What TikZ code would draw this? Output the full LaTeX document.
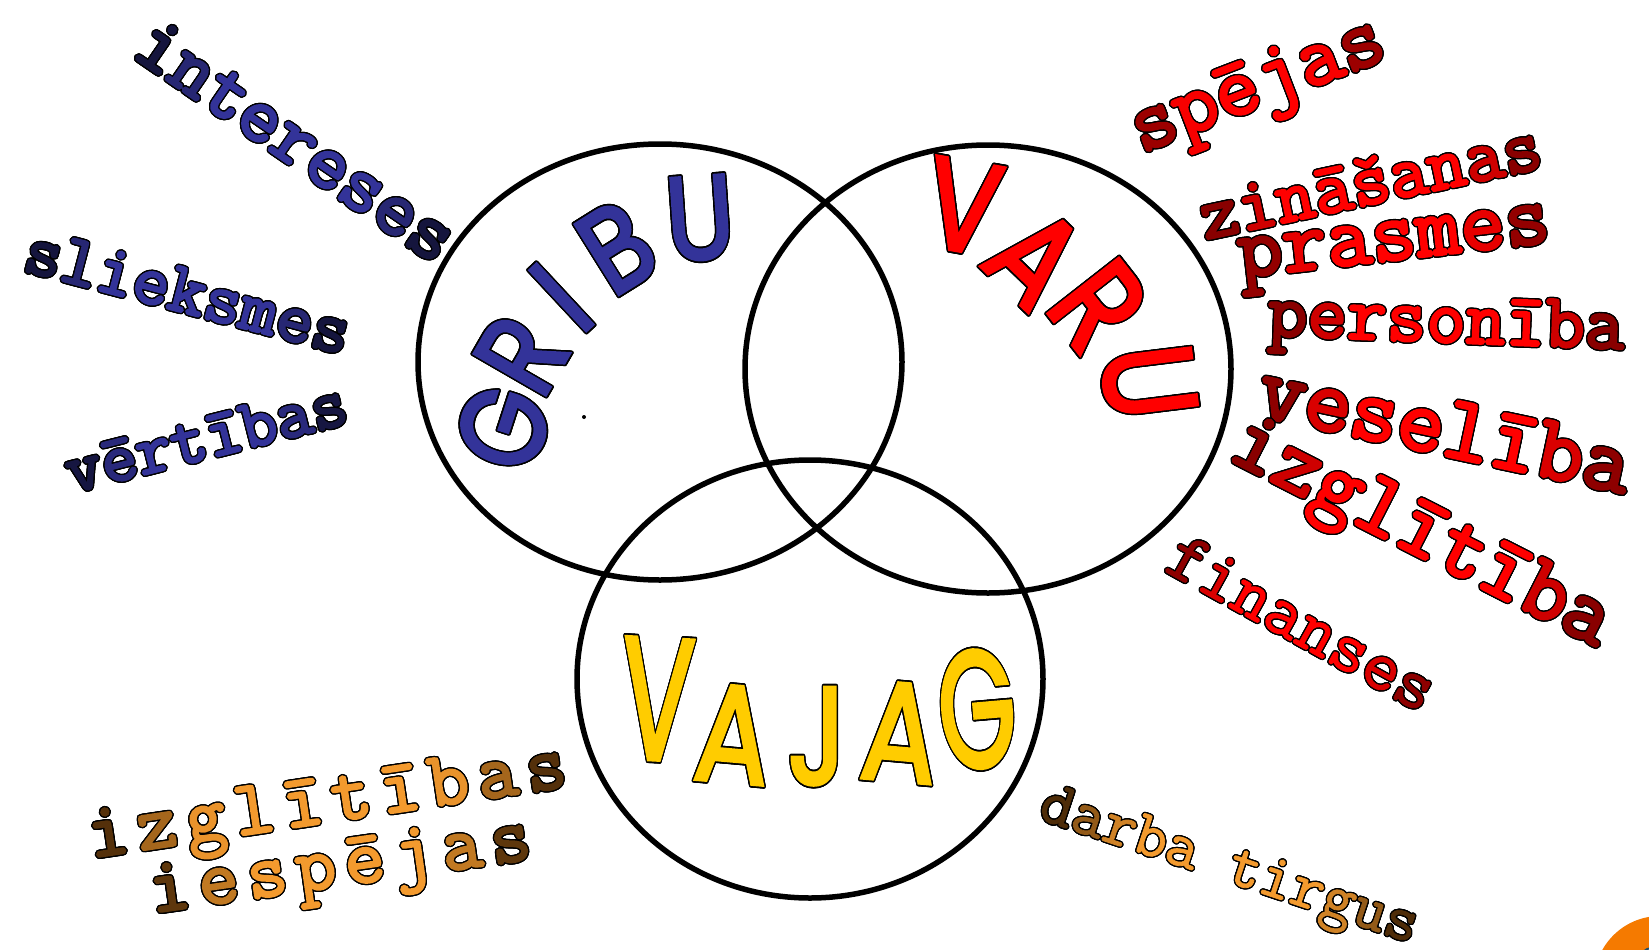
\documentclass[tikz,border=0pt]{standalone}
\usepackage{fontspec}
\newfontfamily\slabbold{Latin Modern Mono}[FakeBold=3]
\newfontfamily\slabthin{Latin Modern Mono}[FakeBold=1.2]
\newfontfamily\comicfont{Poppins}[FakeBold=3]
\usepackage{xcolor}
\definecolor{vnNavy}{HTML}{333399}
\definecolor{vnNavyDark}{HTML}{0c0c22}
\definecolor{vnRed}{HTML}{FF0000}
\definecolor{vnRedDark}{HTML}{660000}
\definecolor{vnGold}{HTML}{FFCC00}
\definecolor{vnOrange}{HTML}{F39A2E}
\definecolor{vnBrown}{HTML}{2a1400}
\definecolor{vnLogo}{HTML}{F57A00}
\definecolor{vnLogoIn}{HTML}{1f4e6b}
\usepackage[copies]{contour}
\contourlength{1.3pt}
\contournumber{20}
\usepackage{tikz}

% letters of a word shaded dark -> bright -> dark
\ExplSyntaxOn
\NewDocumentCommand{\gradword}{O{0pt}mmm}
  {
    \int_set:Nn \l_tmpa_int { \tl_count:n {#4} }
    \int_zero:N \l_tmpb_int
    \tl_map_inline:nn {#4}
      {
        \int_incr:N \l_tmpb_int
        \tl_set:Nx \l_tmpa_tl
          { \fp_eval:n { round( min(100, 135 * sin( pi * (\l_tmpb_int - 0.5) / \l_tmpa_int )), 0) } }
        \colorlet{gradtmp}{#3!\l_tmpa_tl!#2}
        {\color{gradtmp}\contour{black}{##1}}
        \int_compare:nNnT { \l_tmpb_int } < { \l_tmpa_int } { \hspace{#1} }
      }
  }
\ExplSyntaxOff

\begin{document}
\begin{tikzpicture}[
      x=1pt, y=-1pt,
      ring/.style={draw=black, line width=5.5pt},
      word/.style={inner sep=0pt, anchor=center,
                   font=\slabbold\fontsize{#1}{#1}\selectfont},
      thinword/.style={inner sep=0pt, anchor=center,
                   font=\slabthin\fontsize{#1}{#1}\selectfont},
      bigletter/.style={inner sep=0pt, anchor=center,
                   font=\comicfont\fontsize{#1}{#1}\selectfont\contourlength{1.7pt}},
    ]
    \useasboundingbox (0,0) rectangle (1649,950);

    % The three rings
    \draw[ring] (660,362) ellipse [x radius=242, y radius=218];
    \draw[ring] (988,369) ellipse [x radius=243, y radius=224];
    \draw[ring] (810,679) ellipse [x radius=233, y radius=219];
    \fill (584,417) circle (2);

    % GRIBU along its arc
    \foreach \ch/\x/\y/\r [count=\i] in {G/504/428/72, R/522/355/60,
        I/562/298/43, B/617/248/32, U/700/219/4}
      \node[bigletter=118, text=vnNavy, rotate=\r, xscale=0.85]
        (gribu\i) at (\x,\y) {\contour{black}{\ch}};

    % VARU along its arc
    \foreach \ch/\x/\y/\r [count=\i] in {V/963/207/-10, A/1035/258/-44,
        R/1098/306/-52, U/1148/382/-83}
      \node[bigletter=128, text=vnRed, rotate=\r, xscale=0.85]
        (varu\i) at (\x,\y) {\contour{black}{\ch}};

    % VAJAG in the lower ring
    \foreach \ch/\x/\y/\r/\s/\w [count=\i] in {V/657/700/-3/172/0.62,
        A/733/735/-5/138/0.8, J/817/737/0/138/0.8, A/900/733/-5/140/0.8,
        G/977/710/5/165/0.6}
      \node[bigletter=\s, text=vnGold, rotate=\r, xscale=\w]
        (vajag\i) at (\x,\y) {\contour{black}{\ch}};

    % Left: what I want
    \node[word=80, rotate=-34.5] (intereses) at (296,141)
      {\gradword{vnNavyDark}{vnNavy}{intereses}};
    \node[word=72, rotate=-14.7] (slieksmes) at (188,292)
      {\gradword{vnNavyDark}{vnNavy}{slieksmes}};
    \node[word=70, rotate=14.2] (vertibas) at (206,438)
      {\gradword{vnNavyDark}{vnNavy}{vērtības}};

    % Right: what I can
    \node[word=86, rotate=21] (spejas) at (1260,91)
      {\gradword{vnRedDark}{vnRed}{spējas}};
    \node[word=75, rotate=12] (zinasanas) at (1370,181)
      {\gradword{vnRedDark}{vnRed}{zināšanas}};
    \node[word=87, rotate=6.5] (prasmes) at (1395,251)
      {\gradword{vnRedDark}{vnRed}{prasmes}};
    \node[word=77, rotate=-2.2] (personiba) at (1446,328)
      {\gradword{vnRedDark}{vnRed}{personība}};
    \node[word=92, rotate=-12] (veseliba) at (1445,428)
      {\gradword{vnRedDark}{vnRed}{veselība}};
    \node[word=90, rotate=-27] (izglitiba) at (1419,538)
      {\gradword{vnRedDark}{vnRed}{izglītība}};
    \node[thinword=72, rotate=-29] (finanses) at (1302,623)
      {\gradword{vnRedDark}{vnRed}{finanses}};

    % Bottom: what is needed
    \node[word=78, rotate=8.5] (izglitibas) at (328,808)
      {\gradword[9pt]{vnBrown}{vnOrange}{izglītības}};
    \node[word=78, rotate=8.1] (iespejas) at (341,872)
      {\gradword[9pt]{vnBrown}{vnOrange}{iespējas}};
    \node[thinword=64, rotate=-18.4] (darbatirgus) at (1228,870)
      {\gradword{vnBrown}{vnOrange}{darba~tirgus}};

    % corner of a logo
    \fill[vnLogo] (1660,982) circle (66);
    \filldraw[fill=white, draw=vnLogoIn, line width=2pt] (1652,960) circle (12);

  \end{tikzpicture}
\end{document}
